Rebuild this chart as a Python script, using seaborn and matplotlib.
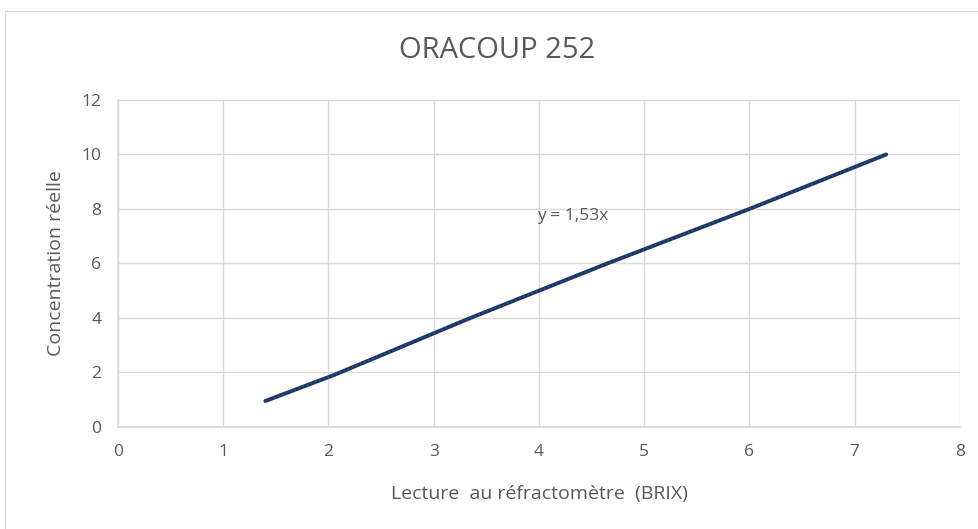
import matplotlib
matplotlib.use("Agg")
import matplotlib.pyplot as plt
import seaborn as sns
import pandas as pd

# Données
brix = [1.4, 2.05, 3.35, 4.65, 6.0, 7.3]
concentration = [0.95, 1.9, 4, 6, 8, 10]
x_ticks = [0, 1, 2, 3, 4, 5, 6, 7, 8]
y_ticks = [0, 2, 4, 6, 8, 10, 12]
equation = "y = 1,53x"

df = pd.DataFrame({"brix": brix, "concentration": concentration})

sns.set_theme(style="white")
plt.rcParams['font.family'] = ['Open Sans', 'DejaVu Sans']
gris = "#595959"

fig = plt.figure(figsize=(9.79, 5.29), dpi=100)
ax = fig.add_axes([0.1205, 0.193, 0.860, 0.618])

sns.lineplot(data=df, x="brix", y="concentration", ax=ax,
             color="#1c3462", linewidth=2.8)
# courbe de tendance (pointillés, sous la série)
sns.lineplot(data=df, x="brix", y="concentration", ax=ax,
             color="#2f4f8f", linewidth=1.2, linestyle=":")

ax.set_xlim(0, 8)
ax.set_ylim(0, 12)
ax.set_xticks(x_ticks)
ax.set_yticks(y_ticks)
ax.grid(True, color="#d9d9d9", linewidth=1)
ax.tick_params(axis="both", length=0, labelsize=12.5, labelcolor=gris, pad=12)
for s in ["top", "right"]:
    ax.spines[s].set_visible(False)
for s in ["left", "bottom"]:
    ax.spines[s].set_color("#d9d9d9")

ax.set_xlabel("Lecture  au réfractomètre  (BRIX)", fontsize=14, color=gris, labelpad=18)
ax.set_ylabel("Concentration réelle", fontsize=14, color=gris, labelpad=12)
ax.text(4.32, 7.75, equation, fontsize=12.5, color=gris, ha="center", va="center")

fig.text(0.508, 0.905, "ORACOUP 252", fontsize=21, color=gris, ha="center", va="center")

# cadre du graphique
cadre = plt.Rectangle((0.005, -0.01), 1.0, 0.99, transform=fig.transFigure,
                      fill=False, edgecolor="#d9d9d9", linewidth=1)
fig.patches.append(cadre)

fig.savefig("out.png", dpi=100)
